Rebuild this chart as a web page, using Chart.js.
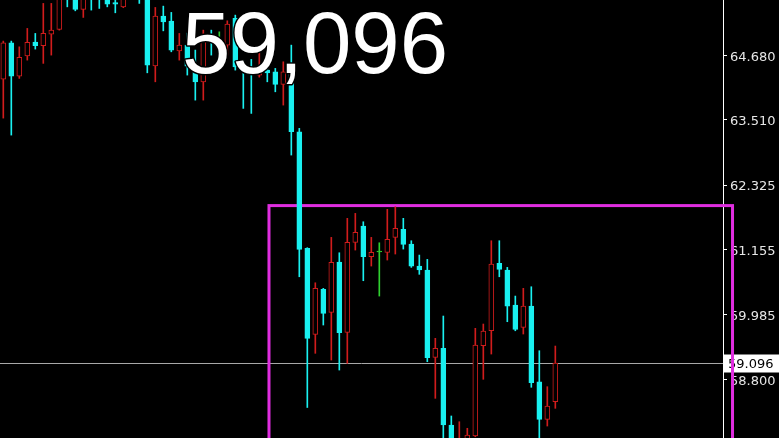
<!DOCTYPE html>
<html>
<head>
<meta charset="utf-8">
<script src="https://cdn.jsdelivr.net/npm/chart.js@4/dist/chart.umd.min.js"></script>
<style>
  html, body { margin: 0; padding: 0; background: #000; }
  #wrap { width: 779px; height: 438px; position: relative; }
</style>
</head>
<body>
<div id="wrap"><canvas id="c"></canvas></div>
<script>
// ---- data (candle index, OHLC) ----
const candleIndex = Array.from({length: 70}, (_, i) => i);
const openPrices = [64.246,64.904,64.300,64.668,64.917,64.850,65.062,65.147,65.950,65.732,
  65.509,65.900,65.880,65.720,65.632,65.556,66.000,66.000,65.900,64.487,
  65.388,65.297,64.759,64.862,64.469,64.197,65.043,64.862,64.862,65.346,
  64.469,64.440,64.319,64.409,64.378,64.150,64.409,63.291,61.178,59.619,
  60.435,60.018,60.930,59.655,61.287,61.582,61.026,61.111,61.105,61.377,
  61.522,61.256,60.857,60.785,59.202,59.366,57.975,57.400,57.600,57.776,
  59.413,59.684,60.906,60.785,60.150,59.746,60.132,58.760,58.079,58.398];
const highPrices = [64.935,64.935,64.831,65.165,65.074,65.618,65.618,65.850,66.000,65.800,
  65.850,65.950,65.950,65.800,65.750,65.900,66.300,66.100,66.000,65.545,
  65.569,65.455,65.074,65.080,64.772,65.134,65.134,65.103,65.303,65.406,
  64.590,64.603,64.772,64.681,64.440,64.560,64.862,63.353,61.190,60.554,
  60.453,61.377,61.098,61.722,61.812,61.660,61.377,61.279,61.885,61.932,
  61.722,61.316,61.056,60.978,59.547,59.951,58.139,58.035,57.916,59.728,
  59.806,61.316,61.316,60.833,60.313,60.453,60.482,59.322,58.670,59.407];
const lowPrices = [63.539,63.231,64.259,64.590,64.790,64.531,64.681,65.134,65.556,65.484,
  65.364,65.497,65.527,65.556,65.448,65.540,65.850,65.618,64.360,64.197,
  65.121,64.741,64.590,64.319,63.865,63.865,64.681,64.650,64.681,64.409,
  63.715,63.624,64.282,64.197,64.016,63.775,62.869,60.663,58.293,59.275,
  59.788,59.153,58.972,59.094,61.147,60.591,60.857,60.313,60.966,61.075,
  61.165,60.833,60.707,59.123,58.459,57.600,57.400,57.300,57.500,57.763,
  58.804,59.262,60.663,59.848,59.684,59.625,58.659,57.600,57.957,58.278];
const closePrices = [64.904,64.300,64.639,64.911,64.850,65.074,65.134,65.768,65.800,65.509,
  65.750,65.750,65.720,65.605,65.605,65.800,66.200,65.750,64.500,65.388,
  65.284,64.772,64.862,64.482,64.197,65.002,64.984,64.862,65.243,64.469,
  64.409,64.337,64.440,64.360,64.150,64.378,63.291,61.160,59.547,60.453,
  60.000,60.924,59.648,61.287,61.468,61.026,61.105,61.111,61.341,61.540,
  61.250,60.857,60.785,59.195,59.366,57.975,57.500,57.600,57.794,59.425,
  59.679,60.893,60.797,60.132,59.710,60.132,58.742,58.079,58.320,59.096];
const yTickValues = [64.680, 63.510, 62.325, 61.155, 59.985, 58.800];
const currentPrice = closePrices[closePrices.length - 1];
const bigLabel = '59,096';
// annotation box (data coordinates)
const boxX = [33.21, 91.15];
const boxY = [61.953, 57.0];

// ---- styles ----
const CYAN = '#19f0f0', RED = '#d01c1c', GREEN = '#2fd02f';
function candleColor(i) {
  if (closePrices[i] > openPrices[i]) return RED;
  if (closePrices[i] < openPrices[i]) return CYAN;
  return GREEN;
}
const colors = candleIndex.map(candleColor);

const wickData = candleIndex.map((k, i) => ({x: k, y: [lowPrices[i], highPrices[i]]}));
const bodyData = candleIndex.map((k, i) => ({x: k, y: [openPrices[i], closePrices[i]]}));

const overlay = {
  id: 'overlay',
  beforeDatasetsDraw(chart) {
    const {ctx, chartArea, scales} = chart;
    const y = scales.y, x = scales.x;
    const py = Math.round(y.getPixelForValue(currentPrice)) + 0.5;
    ctx.save();
    // current price line
    ctx.strokeStyle = '#a8a8a8';
    ctx.lineWidth = 1;
    ctx.beginPath();
    ctx.moveTo(chartArea.left, py);
    ctx.lineTo(chartArea.right, py);
    ctx.stroke();
    // price label box
    ctx.fillStyle = '#ffffff';
    ctx.fillRect(chartArea.right + 1, py - 9, 779 - chartArea.right - 1, 18);
    ctx.fillStyle = '#000000';
    ctx.font = '13px "DejaVu Sans"';
    ctx.textBaseline = 'middle';
    ctx.textAlign = 'left';
    ctx.fillText(currentPrice.toFixed(3), chartArea.right + 5, py + 1);
    // magenta box
    ctx.strokeStyle = '#e02ee0';
    ctx.lineWidth = 3;
    const x0 = x.getPixelForValue(boxX[0]), x1 = x.getPixelForValue(boxX[1]);
    const y0 = y.getPixelForValue(boxY[0]), y1 = y.getPixelForValue(boxY[1]);
    ctx.strokeRect(x0, y0, x1 - x0, y1 - y0);
    ctx.restore();
  },
  afterDraw(chart) {
    const {ctx} = chart;
    ctx.save();
    ctx.font = '87px "Liberation Sans"';
    ctx.textBaseline = 'alphabetic';
    ctx.textAlign = 'left';
    ctx.lineJoin = 'round';
    ctx.strokeStyle = '#000';
    ctx.lineWidth = 3;
    ctx.strokeText(bigLabel, 182, 73);
    ctx.fillStyle = '#ffffff';
    ctx.fillText(bigLabel, 182, 73);
    ctx.restore();
  }
};

new Chart(document.getElementById('c'), {
  type: 'bar',
  data: {
    datasets: [
      {
        label: 'body',
        data: bodyData,
        order: 0,
        grouped: false,
        barThickness: 5,
        minBarLength: 1,
        borderWidth: 1,
        borderSkipped: false,
        borderColor: colors,
        backgroundColor: candleIndex.map(i => colors[i] === RED ? '#000000' : colors[i])
      },
      {
        label: 'wick',
        data: wickData,
        order: 1,
        grouped: false,
        barThickness: 1,
        borderWidth: 0,
        backgroundColor: colors
      }
    ]
  },
  options: {
    responsive: true,
    maintainAspectRatio: false,
    animation: false,
    layout: { padding: 0 },
    plugins: { legend: { display: false }, tooltip: { enabled: false }, title: { display: false } },
    scales: {
      x: {
        type: 'linear',
        min: -0.4125,
        max: 89.96,
        offset: false,
        display: false
      },
      y: {
        position: 'right',
        min: 57.74,
        max: 65.68,
        afterBuildTicks(scale) { scale.ticks = yTickValues.map(v => ({value: v})); },
        afterFit(scale) {
          scale.width = 56;
          scale.paddingTop = 0;
          scale.paddingBottom = 0;
        },
        ticks: {
          color: '#e6e6e6',
          font: { family: 'DejaVu Sans', size: 13 },
          padding: 3,
          labelOffset: 2,
          autoSkip: false,
          callback: v => Number(v).toFixed(3)
        },
        grid: { drawOnChartArea: false, drawTicks: true, tickLength: 4, color: '#ffffff' },
        border: { display: true, color: '#ffffff', width: 1 }
      }
    }
  },
  plugins: [overlay]
});
</script>
</body>
</html>
